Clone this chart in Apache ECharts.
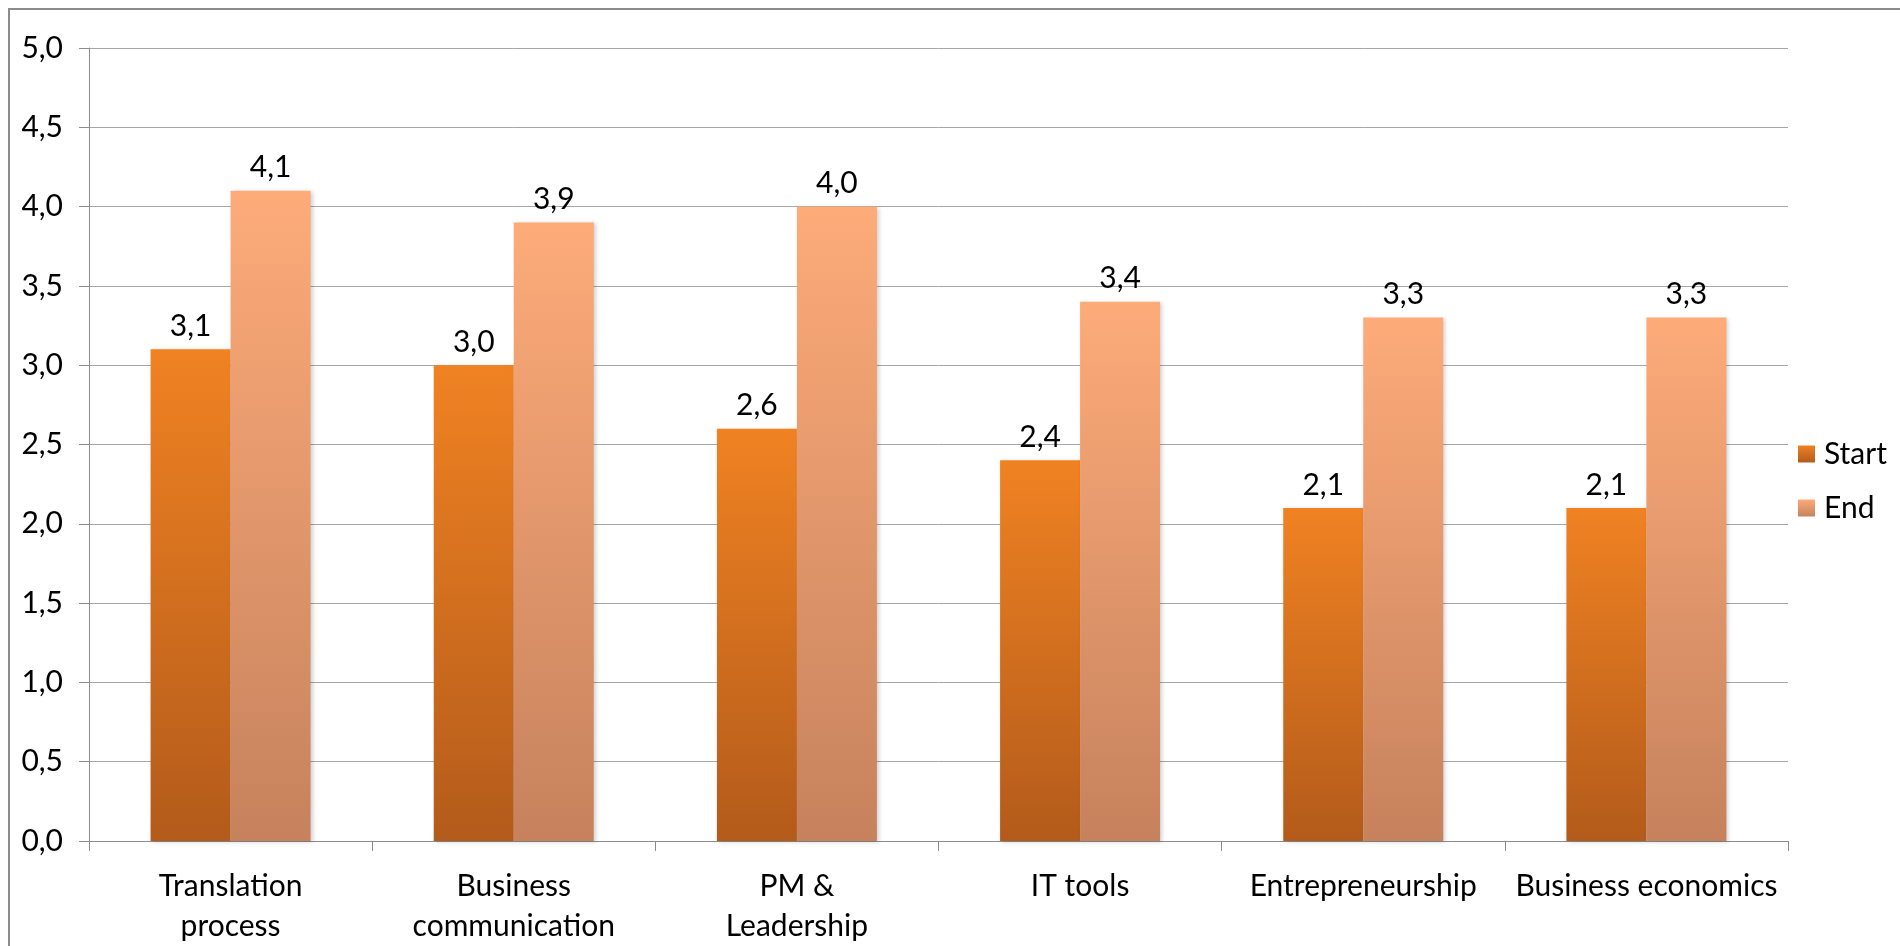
<!DOCTYPE html>
<html>
<head>
<meta charset="utf-8">
<title>Start vs End</title>
<script src="https://cdn.jsdelivr.net/npm/echarts@6/dist/echarts.min.js"></script>
<style>
  html, body { margin: 0; padding: 0; background: #fff; }
  #frame {
    position: absolute; left: 8px; top: 8px; width: 1900px; height: 946px;
    border-left: 2px solid #8c8c8c; border-top: 2px solid #8c8c8c; box-sizing: border-box;
  }
  #chart { position: absolute; left: 0; top: 0; width: 1900px; height: 946px; }
</style>
</head>
<body>
<div id="frame"></div>
<div id="chart"></div>
<script>
// Skill areas and the mean self-assessment at the start and at the end
const categories = [
  'Translation\nprocess',
  'Business\ncommunication',
  'PM &\nLeadership',
  'IT tools',
  'Entrepreneurship',
  'Business economics'
];
const startValues = [3.1, 3.0, 2.6, 2.4, 2.1, 2.1];
const endValues = [4.1, 3.9, 4.0, 3.4, 3.3, 3.3];
const seriesNames = ['Start', 'End'];

const FONT = 'Lato';
const FONT_SIZE = 30;
const fmt = v => v.toFixed(1).replace('.', ',');

function vgrad(top, bottom) {
  return new echarts.graphic.LinearGradient(0, 0, 0, 1, [
    { offset: 0, color: top },
    { offset: 1, color: bottom }
  ]);
}

const chart = echarts.init(document.getElementById('chart'), null, { renderer: 'canvas' });

const barShadow = {
  shadowBlur: 4,
  shadowOffsetX: 2,
  shadowOffsetY: 1,
  shadowColor: 'rgba(0,0,0,0.18)'
};

const valueLabel = {
  show: true,
  position: 'top',
  distance: 8,
  fontFamily: FONT,
  fontSize: FONT_SIZE,
  color: '#000',
  formatter: p => fmt(p.value)
};

chart.setOption({
  animation: false,
  grid: { left: 89, right: 112, top: 48, bottom: 99, containLabel: false },
  legend: {
    orient: 'vertical',
    left: 1793,
    top: 432,
    itemWidth: 17,
    itemHeight: 17,
    itemGap: 20,
    icon: 'rect',
    textStyle: { fontFamily: FONT, fontSize: FONT_SIZE, color: '#000', lineHeight: 34, padding: [0, 0, 0, 4] },
    data: seriesNames
  },
  xAxis: {
    type: 'category',
    data: categories,
    boundaryGap: true,
    axisLine: { lineStyle: { color: '#8c8c8c', width: 1 } },
    axisTick: { show: true, length: 10, alignWithLabel: false, lineStyle: { color: '#8c8c8c' } },
    axisLabel: {
      fontFamily: FONT, fontSize: FONT_SIZE, color: '#000', lineHeight: 40, margin: 25, interval: 0
    }
  },
  yAxis: {
    type: 'value',
    min: 0,
    max: 5,
    interval: 0.5,
    axisLine: { show: true, lineStyle: { color: '#8c8c8c', width: 1 } },
    axisTick: { show: true, length: 10, lineStyle: { color: '#8c8c8c' } },
    axisLabel: {
      fontFamily: FONT, fontSize: FONT_SIZE, color: '#000', margin: 26,
      formatter: v => fmt(v)
    },
    splitLine: { lineStyle: { color: '#a6a6a6', width: 1 } }
  },
  series: [
    {
      name: seriesNames[0],
      type: 'bar',
      data: startValues,
      barGap: '0%',
      barCategoryGap: '43.5%',
      itemStyle: Object.assign({ color: vgrad('#f08222', '#b35b1b') }, barShadow),
      label: valueLabel
    },
    {
      name: seriesNames[1],
      type: 'bar',
      data: endValues,
      barGap: '0%',
      barCategoryGap: '43.5%',
      itemStyle: Object.assign({ color: vgrad('#fdab79', '#c6825d') }, barShadow),
      label: valueLabel
    }
  ]
});
</script>
</body>
</html>
